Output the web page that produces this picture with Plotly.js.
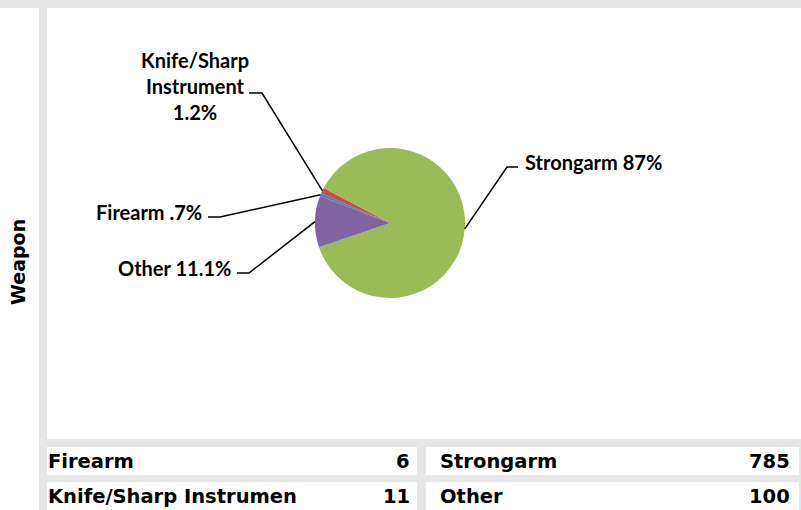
<!DOCTYPE html>
<html>
<head>
<meta charset="utf-8">
<script src="https://cdn.plot.ly/plotly-3.0.1.min.js"></script>
<style>html,body{margin:0;padding:0;background:#fff;}#chart{width:801px;height:510px;}</style>
</head>
<body>
<div id="chart"></div>
<script>
// ---- data ----
const categories = ["Firearm", "Knife/Sharp Instrument", "Strongarm", "Other"];
const counts = [6, 11, 785, 100];
const pctLabels = [".7%", "1.2%", "87%", "11.1%"];
const sliceColors = ["#4F81BD", "#C0504D", "#9BBB59", "#8064A2"];
const axisTitle = "Weapon";

// ---- layout helpers (pixel -> paper) ----
const W = 801, H = 510;
const px = x => x / W;
const py = y => 1 - y / H;
const GRAY = "#E7E7E7";

// pie geometry
const cx = 390, cy = 223, R = 75, rotation = 291;

// label placement (pixels): text anchor, dash segment
const labelPos = [
  {x: 204, y: 212, xa: "right", text: "Firearm .7%", dash: [208, 220, 217]},
  {x: 195, y: 86, xa: "center", text: "Knife/Sharp<br>Instrument<br>1.2%", dash: [249, 262, 93]},
  {x: 523, y: 162, xa: "left", text: "Strongarm 87%", dash: [518, 507, 167]},
  {x: 233, y: 268, xa: "right", text: "Other 11.1%", dash: [237, 249, 273]}
];

const total = counts.reduce((a, b) => a + b, 0);
const shapes = [];
const annotations = [];

// frame
shapes.push({type: "rect", xref: "paper", yref: "paper", x0: px(0), x1: px(801), y0: py(0), y1: py(8), fillcolor: GRAY, line: {width: 0}, layer: "below"});
shapes.push({type: "rect", xref: "paper", yref: "paper", x0: px(39), x1: px(47), y0: py(8), y1: py(510), fillcolor: GRAY, line: {width: 0}, layer: "below"});
// table background and cells
shapes.push({type: "rect", xref: "paper", yref: "paper", x0: px(47), x1: px(801), y0: py(439), y1: py(510), fillcolor: GRAY, line: {width: 0}, layer: "below"});
const cellCols = [[47, 417], [426, 799]];
const cellRows = [[447, 475], [482, 510]];
cellCols.forEach(c => cellRows.forEach(r => {
  shapes.push({type: "rect", xref: "paper", yref: "paper", x0: px(c[0]), x1: px(c[1]), y0: py(r[0]), y1: py(r[1]), fillcolor: "#FFFFFF", line: {width: 0}, layer: "below"});
}));

// leader lines from data-derived slice mid angles
let acc = rotation;
categories.forEach((cat, i) => {
  const span = 360 * counts[i] / total;
  const mid = (acc + span / 2) * Math.PI / 180;
  acc += span;
  const ax = cx + R * Math.sin(mid);
  const ay = cy - R * Math.cos(mid);
  const L = labelPos[i];
  const path = `M ${px(L.dash[0])} ${py(L.dash[2])} L ${px(L.dash[1])} ${py(L.dash[2])} L ${px(ax)} ${py(ay)}`;
  shapes.push({type: "path", xref: "paper", yref: "paper", path: path, line: {color: "#000", width: 1.5}, layer: "above"});
  annotations.push({xref: "paper", yref: "paper", x: px(L.x), y: py(L.y), xanchor: L.xa, yanchor: "middle",
    text: L.text, showarrow: false, align: "center",
    font: {family: "Lato, 'Open Sans', sans-serif", size: 20, weight: 700, color: "#000"}});
});

// table text
const tableFont = {family: "'DejaVu Sans', Verdana, sans-serif", size: 19.5, weight: 700, color: "#000"};
const cellLabelX = [46, 438], cellNumX = [412, 792];
const rowY = [461, 496];
categories.forEach((cat, i) => {
  const col = Math.floor(i / 2), row = i % 2;
  annotations.push({xref: "paper", yref: "paper", x: px(cellLabelX[col]), y: py(rowY[row]), xanchor: "left", yanchor: "middle",
    text: cat.length > 21 ? cat.slice(0, 21) : cat, showarrow: false, font: tableFont});
  annotations.push({xref: "paper", yref: "paper", x: px(cellNumX[col]), y: py(rowY[row]), xanchor: "right", yanchor: "middle",
    text: String(counts[i]), showarrow: false, font: tableFont});
});

// axis title
annotations.push({xref: "paper", yref: "paper", x: px(18), y: py(262), xanchor: "center", yanchor: "middle",
  text: axisTitle, textangle: -90, showarrow: false,
  font: {family: "'DejaVu Sans', Verdana, sans-serif", size: 19, weight: 700, color: "#000"}});

const trace = {
  type: "pie",
  labels: categories,
  values: counts,
  sort: false,
  direction: "clockwise",
  rotation: rotation,
  marker: {colors: sliceColors, line: {width: 0}},
  textinfo: "none",
  hoverinfo: "label+value+percent",
  domain: {x: [px(cx - R), px(cx + R)], y: [py(cy + R), py(cy - R)]},
  showlegend: false
};

Plotly.newPlot("chart", [trace], {
  width: W, height: H,
  margin: {l: 0, r: 0, t: 0, b: 0},
  paper_bgcolor: "#FFFFFF",
  plot_bgcolor: "#FFFFFF",
  showlegend: false,
  shapes: shapes,
  annotations: annotations
}, {displayModeBar: false, staticPlot: true});
</script>
</body>
</html>
